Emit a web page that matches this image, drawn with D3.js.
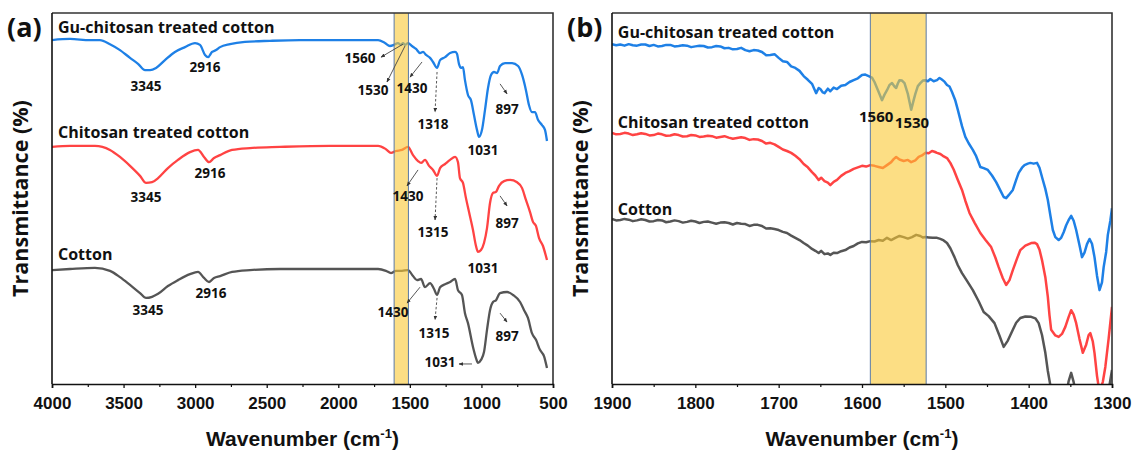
<!DOCTYPE html>
<html>
<head>
<meta charset="utf-8">
<script src="https://cdn.jsdelivr.net/npm/d3@7"></script>
<style>
  body { margin: 0; background: #fff; }
  svg { display: block; }
</style>
</head>
<body>
<svg id="chart" width="1133" height="452"></svg>
<script>
// ---- data (wavenumber in cm-1, transmittance in arbitrary offset units) ----
const seriesNames = ["Gu-chitosan treated cotton", "Chitosan treated cotton", "Cotton"];
const seriesColors = ["#1e80e6", "#ff4343", "#555555"];

const ticksA = [4000, 3500, 3000, 2500, 2000, 1500, 1000, 500];
const minorA = [3750, 3250, 2750, 2250, 1750, 1250, 750];
const ticksB = [1900, 1800, 1700, 1600, 1500, 1400, 1300];
const minorB = [1850, 1750, 1650, 1550, 1450, 1350];

const bandA = [1610, 1510];
const bandB = [1590, 1523];

// panel (a): full range spectra
const guA = [[4000,92.7],[3874,93.0],[3735,92.7],[3665,92.7],[3595,91.6],[3525,90.0],[3455,87.9],[3399,86.3],[3350,84.6],[3315,84.6],[3273,85.2],[3211,87.3],[3141,89.5],[3071,90.8],[3001,91.9],[2966,91.4],[2931,88.7],[2910,88.1],[2882,89.5],[2854,90.0],[2826,90.8],[2756,91.6],[2652,92.2],[2477,92.5],[2267,92.7],[2058,92.7],[1848,92.7],[1722,92.7],[1674,91.9],[1639,91.1],[1611,91.4],[1583,91.9],[1562,91.4],[1548,91.9],[1534,91.4],[1513,91.9],[1485,91.1],[1457,90.3],[1429,89.2],[1408,89.5],[1387,88.7],[1359,87.9],[1338,86.8],[1310,85.2],[1289,87.3],[1254,88.1],[1219,89.2],[1184,89.5],[1171,89.0],[1157,86.3],[1143,85.2],[1129,85.4],[1115,81.9],[1094,77.9],[1073,76.5],[1052,72.5],[1031,68.5],[1017,66.6],[996,68.5],[975,73.9],[954,79.8],[933,83.3],[912,84.1],[891,83.8],[870,85.7],[835,86.5],[786,86.5],[744,85.7],[716,83.3],[689,79.2],[668,75.2],[647,73.3],[626,73.3],[605,71.2],[577,69.8],[556,68.5],[542,65.5]];
const chA = [[4000,63.9],[3874,64.2],[3700,64.2],[3595,63.1],[3525,61.2],[3455,58.8],[3385,56.1],[3343,54.2],[3301,54.4],[3259,55.5],[3190,58.2],[3120,60.4],[3036,62.5],[2980,63.1],[2938,61.2],[2903,59.8],[2868,60.9],[2826,61.7],[2742,63.1],[2617,63.6],[2407,63.9],[2058,64.2],[1722,64.2],[1667,63.3],[1632,62.3],[1597,62.8],[1555,63.1],[1513,63.9],[1478,61.7],[1443,60.1],[1422,59.6],[1394,60.4],[1366,58.8],[1338,57.7],[1310,56.1],[1289,58.2],[1254,59.3],[1219,60.4],[1184,61.2],[1164,59.8],[1150,55.5],[1129,54.2],[1108,50.1],[1087,46.4],[1059,41.5],[1038,37.2],[1024,35.6],[1003,36.1],[982,38.0],[961,42.0],[940,48.8],[919,51.5],[898,51.8],[877,53.4],[842,54.7],[800,55.0],[751,54.4],[716,52.8],[689,49.6],[661,46.4],[640,43.7],[619,42.6],[598,39.4],[570,37.2],[542,33.4]];
const cotA = [[4000,30.7],[3874,31.0],[3700,31.3],[3595,30.5],[3525,28.8],[3455,26.7],[3385,24.5],[3343,23.2],[3301,23.5],[3259,24.3],[3190,26.4],[3120,28.0],[3036,29.6],[2980,30.2],[2938,28.6],[2903,27.5],[2868,28.6],[2826,29.1],[2742,30.2],[2617,30.7],[2407,31.0],[2058,31.0],[1722,31.0],[1667,30.5],[1632,29.9],[1597,30.5],[1555,30.5],[1513,30.7],[1478,29.1],[1450,28.0],[1422,28.3],[1394,26.1],[1359,27.2],[1331,25.6],[1310,24.0],[1289,26.1],[1254,26.9],[1219,27.5],[1184,28.3],[1164,25.3],[1136,24.0],[1115,19.1],[1094,16.4],[1059,10.0],[1038,7.0],[1024,5.7],[1003,6.5],[982,8.6],[961,14.6],[940,19.9],[919,22.1],[898,22.6],[870,24.5],[821,24.8],[779,24.0],[730,22.1],[702,19.9],[675,17.8],[647,13.7],[619,11.9],[591,9.2],[563,7.5],[542,4.3]];

// panel (b): 1900-1300 close-up (noisy baseline read point by point)
const guB = [[1900,91.6],[1895,91.3],[1890,91.5],[1885,91.2],[1880,91.6],[1875,91.3],[1870,91.2],[1865,91.5],[1860,91.5],[1855,91.1],[1850,91.4],[1845,91.0],[1840,91.1],[1835,91.4],[1830,91.4],[1825,91.0],[1820,91.1],[1815,91.3],[1810,91.2],[1805,90.8],[1800,91.0],[1795,91.2],[1790,91.1],[1785,90.7],[1780,90.8],[1775,91.1],[1770,91.0],[1765,90.5],[1760,90.6],[1755,90.2],[1750,90.3],[1745,90.6],[1740,90.0],[1735,89.7],[1730,90.0],[1725,89.9],[1720,89.5],[1715,88.6],[1710,88.7],[1705,88.9],[1700,87.9],[1695,87.0],[1690,86.8],[1685,85.6],[1680,85.2],[1675,84.4],[1670,83.0],[1665,82.0],[1660,80.9],[1657,79.4],[1655,78.4],[1652,79.8],[1650,79.5],[1647,78.6],[1645,78.4],[1641,79.6],[1638,78.9],[1634,79.9],[1630,79.5],[1625,80.4],[1620,80.6],[1615,81.4],[1610,81.9],[1605,82.4],[1600,83.3],[1596,83.4],[1592,83.0],[1588,82.6],[1585,81.4],[1580,78.7],[1576,76.5],[1573,78.0],[1570,79.2],[1567,80.6],[1564,81.1],[1561,80.2],[1559,79.8],[1557,81.0],[1555,81.9],[1552,81.8],[1549,81.1],[1545,78.2],[1541,73.9],[1538,76.5],[1536,78.2],[1533,80.3],[1530,81.1],[1527,81.8],[1524,81.9],[1521,81.6],[1518,82.2],[1514,81.6],[1510,81.9],[1507,82.5],[1505,82.2],[1501,81.5],[1498,80.6],[1495,80.2],[1492,78.7],[1488,76.4],[1485,73.9],[1480,69.5],[1476,66.6],[1472,64.9],[1467,63.1],[1463,61.4],[1458,58.5],[1454,58.2],[1449,57.7],[1444,56.2],[1439,54.4],[1434,52.2],[1430,50.4],[1427,50.1],[1424,50.9],[1419,52.3],[1415,55.0],[1412,56.9],[1408,58.3],[1405,59.0],[1401,59.4],[1398,59.6],[1394,59.4],[1390,59.6],[1387,58.3],[1384,55.8],[1380,52.6],[1377,49.6],[1374,45.5],[1371,41.5],[1368,39.6],[1364,38.8],[1361,39.4],[1358,40.9],[1355,42.8],[1352,44.2],[1349,45.3],[1346,44.0],[1343,41.5],[1339,37.4],[1336,34.2],[1333,35.4],[1330,37.7],[1327,39.1],[1324,37.8],[1321,34.2],[1318,29.2],[1315,25.3],[1312,27.4],[1310,31.5],[1307,35.6],[1305,40.2],[1302,44.0],[1300,47.4]];
const chB = [[1900,67.7],[1895,67.3],[1890,67.4],[1885,67.7],[1880,67.5],[1875,67.1],[1870,67.3],[1865,67.6],[1860,67.4],[1855,67.0],[1850,67.1],[1845,67.5],[1840,67.3],[1835,66.9],[1830,67.0],[1825,67.3],[1820,67.1],[1815,66.7],[1810,66.8],[1805,67.1],[1800,67.0],[1795,66.6],[1790,66.7],[1785,66.9],[1780,66.8],[1775,66.4],[1770,66.6],[1765,66.8],[1760,66.4],[1755,66.1],[1750,66.3],[1745,66.5],[1740,66.3],[1735,65.8],[1730,66.0],[1725,65.9],[1720,65.5],[1715,64.8],[1710,65.0],[1705,64.6],[1700,63.9],[1695,63.2],[1690,62.8],[1685,62.3],[1680,61.5],[1675,60.6],[1670,59.3],[1665,58.4],[1660,57.1],[1656,56.2],[1652,55.0],[1649,55.6],[1645,54.7],[1641,54.3],[1638,53.6],[1634,54.5],[1630,55.0],[1625,56.1],[1620,56.9],[1615,57.4],[1610,58.0],[1605,58.4],[1600,58.8],[1595,58.6],[1590,59.0],[1585,58.8],[1580,58.5],[1575,58.2],[1570,59.0],[1565,59.8],[1562,60.6],[1559,61.2],[1555,60.5],[1550,60.1],[1545,60.4],[1541,59.8],[1536,60.3],[1532,61.2],[1528,61.6],[1524,62.3],[1520,62.2],[1516,62.8],[1513,62.6],[1510,62.3],[1506,62.0],[1503,61.5],[1498,60.9],[1494,59.6],[1490,57.8],[1485,55.0],[1480,52.3],[1476,49.4],[1471,46.1],[1465,43.5],[1458,40.7],[1452,38.9],[1445,36.9],[1440,34.1],[1436,31.5],[1431,28.5],[1427,26.7],[1423,28.0],[1419,30.7],[1414,33.8],[1410,36.1],[1404,37.3],[1397,38.0],[1393,38.1],[1390,37.7],[1387,36.2],[1384,33.4],[1380,28.8],[1377,23.5],[1375,18.5],[1373,14.6],[1368,13.1],[1364,12.7],[1360,13.5],[1356,15.4],[1352,18.1],[1349,19.9],[1346,18.7],[1343,16.4],[1339,12.1],[1335,8.4],[1331,10.6],[1328,13.2],[1326,13.7],[1323,11.4],[1321,8.4],[1318,2.2],[1315,-2.2],[1311,0.6],[1308,4.6],[1304,12.3],[1300,20.8]];
const cotB = [[1900,44.5],[1895,44.1],[1890,44.2],[1885,44.5],[1880,44.3],[1875,43.9],[1870,44.1],[1865,44.4],[1860,44.2],[1855,43.8],[1850,43.9],[1845,44.2],[1840,44.1],[1835,43.6],[1830,43.8],[1825,44.1],[1820,43.9],[1815,43.5],[1810,43.7],[1805,44.0],[1800,43.8],[1795,43.4],[1790,43.7],[1785,43.8],[1780,43.5],[1775,43.2],[1770,43.5],[1765,43.6],[1760,43.4],[1755,43.0],[1750,43.4],[1745,43.2],[1740,43.1],[1735,42.6],[1730,42.9],[1725,42.9],[1720,42.6],[1715,41.9],[1710,42.0],[1705,41.8],[1700,41.5],[1695,41.0],[1690,40.7],[1685,40.0],[1680,39.4],[1675,38.8],[1670,38.0],[1665,37.3],[1660,36.4],[1656,35.9],[1652,35.3],[1649,35.9],[1645,35.0],[1641,35.2],[1638,34.8],[1634,35.4],[1630,35.3],[1625,35.8],[1620,36.1],[1615,36.8],[1610,37.2],[1605,37.9],[1600,38.3],[1595,38.2],[1590,38.5],[1585,38.4],[1580,38.8],[1575,38.6],[1570,39.4],[1565,38.8],[1560,39.4],[1555,39.9],[1550,39.6],[1545,39.2],[1540,39.6],[1535,40.2],[1530,39.9],[1527,39.5],[1524,39.6],[1520,39.5],[1515,39.4],[1510,39.4],[1506,39.1],[1502,38.7],[1498,38.0],[1494,36.6],[1489,34.2],[1485,32.0],[1480,29.9],[1474,27.8],[1467,25.3],[1460,22.3],[1454,19.4],[1448,18.3],[1441,16.4],[1435,13.0],[1430,10.0],[1425,11.7],[1419,14.6],[1415,16.5],[1410,17.8],[1404,18.2],[1397,18.1],[1392,17.7],[1388,16.4],[1384,13.2],[1380,8.4],[1377,3.5],[1373,-1.6],[1369,-6.0],[1365,-9.7],[1360,-7.2],[1355,-3.0],[1352,0.8],[1349,3.0],[1346,0.5],[1343,-3.0],[1339,-8.0],[1335,-12.4],[1320,-12.4],[1310,-7.0],[1303,-0.3],[1300,3.8]];

// series name positions [wavenumber, T]
const namePosA = [[3958,96.2],[3958,67.9],[3958,35.0]];
const namePosB = [[1893,94.9],[1893,70.6],[1893,47.2]];

// peak labels [text, wavenumber, T, series index]
const peakLabelsA = [
  ["3345",3343,80.3,0],["2916",2931,85.4,0],["1560",1848,87.9,0],["1530",1757,79.2,0],
  ["1430",1485,79.8,0],["1318",1338,70.1,0],["1031",989,63.1,0],["897",821,74.1,0],
  ["3345",3343,50.4,1],["2916",2896,56.9,1],["1430",1513,50.7,1],["1315",1338,41.0,1],
  ["1031",989,31.3,1],["897",821,43.4,1],
  ["3345",3329,19.9,2],["2916",2889,24.5,2],["1430",1618,19.4,2],["1315",1331,13.7,2],
  ["1031",1289,5.9,2],["897",821,12.9,2]
];
const peakLabelsB = [["1560",1583,72.0],["1530",1540,70.4]];

// arrows [wn1, T1, wn2, T2, dashed]
const arrowsA = [
  [1548,91.6,1702,88.1,0],[1534,91.1,1660,81.4,0],[1415,86.8,1499,82.7,0],
  [1310,84.1,1324,73.3,1],[870,80.9,821,78.2,0],
  [1443,57.7,1520,53.4,0],[1310,55.5,1324,44.2,1],[870,50.7,821,48.0,0],
  [1429,26.1,1520,21.8,0],[1310,23.2,1324,17.3,1],[870,19.1,821,16.7,0],[1066,5.4,1157,5.4,0]
];

// ---- drawing ----
const svg = d3.select("#chart");
const plotTop = 13, plotBottom = 384;
const arial = "'Liberation Sans', Arial, sans-serif";
const gothic = "'Open Sans', 'Noto Sans', sans-serif";

svg.append("defs").append("marker")
  .attr("id", "head")
  .attr("viewBox", "0 0 10 10")
  .attr("refX", 9).attr("refY", 5)
  .attr("markerWidth", 5).attr("markerHeight", 5)
  .attr("orient", "auto")
  .append("path").attr("d", "M0,1L10,5L0,9Z").attr("fill", "#333");

function panel(opt) {
  const x = d3.scaleLinear().domain(opt.domain).range([opt.left, opt.right]);
  const y = d3.scaleLinear().domain([0, 100]).range([plotBottom, plotTop]);
  const g = svg.append("g");

  g.append("clipPath").attr("id", opt.id + "clip")
    .append("rect")
    .attr("x", opt.left).attr("y", plotTop)
    .attr("width", opt.right - opt.left).attr("height", plotBottom - plotTop);

  const line = d3.line()
    .x(d => x(d[0])).y(d => y(d[1]))
    .curve(opt.curve);

  const curves = g.append("g").attr("clip-path", `url(#${opt.id}clip)`);
  opt.series.forEach((s, i) => {
    curves.append("path")
      .datum(s)
      .attr("d", line)
      .attr("fill", "none")
      .attr("stroke", seriesColors[i])
      .attr("stroke-width", opt.lw)
      .attr("stroke-linejoin", "round");
  });

  // highlighted band, drawn on top so the curves show through tinted
  const bx0 = x(opt.band[0]), bx1 = x(opt.band[1]);
  g.append("rect")
    .attr("x", bx0).attr("y", plotTop)
    .attr("width", bx1 - bx0).attr("height", plotBottom - plotTop)
    .attr("fill", "rgb(250,200,50)")
    .attr("fill-opacity", 0.6);
  g.selectAll(".bl").data(opt.band).join("line")
    .attr("x1", d => x(d)).attr("x2", d => x(d))
    .attr("y1", plotTop).attr("y2", plotBottom)
    .attr("stroke", "#5a7aa6").attr("stroke-width", 1);

  // frame
  g.append("path")
    .attr("d", `M${opt.left},${plotTop}H${opt.right}V${plotBottom}`)
    .attr("fill", "none").attr("stroke", "#333").attr("stroke-width", 1.6);
  g.append("line")
    .attr("x1", opt.left).attr("x2", opt.left)
    .attr("y1", plotTop).attr("y2", plotBottom)
    .attr("stroke", "#111").attr("stroke-width", 1.6);

  // x axis
  const ax = g.append("g").attr("transform", `translate(0,${plotBottom})`)
    .call(d3.axisBottom(x).tickValues(opt.ticks).tickSize(4).tickPadding(9).tickFormat(d3.format("d")));
  ax.select(".domain").attr("stroke", "#111").attr("stroke-width", 1.6);
  ax.selectAll(".tick line").attr("stroke", "#111").attr("stroke-width", 1.3);
  ax.selectAll(".tick text")
    .attr("font-family", arial).attr("font-weight", "bold")
    .attr("font-size", 17).attr("fill", "#111");
  const mx = g.append("g").attr("transform", `translate(0,${plotBottom})`)
    .call(d3.axisBottom(x).tickValues(opt.minor).tickSize(3).tickFormat(""));
  mx.select(".domain").remove();
  mx.selectAll(".tick line").attr("stroke", "#111").attr("stroke-width", 1.2);

  // axis titles
  const xt = g.append("text")
    .attr("x", (opt.left + opt.right) / 2).attr("y", 446)
    .attr("text-anchor", "middle")
    .attr("font-family", arial).attr("font-weight", "bold")
    .attr("font-size", 21).attr("fill", "#111");
  xt.append("tspan").text("Wavenumber (cm");
  xt.append("tspan").attr("dy", -8).attr("font-size", 13).text("-1");
  xt.append("tspan").attr("dy", 8).text(")");

  g.append("text")
    .attr("transform", `translate(${opt.left - 24},${(plotTop + plotBottom) / 2}) rotate(-90)`)
    .attr("text-anchor", "middle")
    .attr("font-family", gothic).attr("font-weight", "bold")
    .attr("font-size", 21.5).attr("fill", "#111")
    .text("Transmittance (%)");

  g.append("text")
    .attr("x", opt.left - 45).attr("y", 37)
    .attr("font-family", gothic).attr("font-weight", "bold")
    .attr("font-size", 27).attr("fill", "#111")
    .text(opt.tag);

  // series names
  g.selectAll(".name").data(opt.names).join("text")
    .attr("x", d => x(d[0])).attr("y", d => y(d[1]))
    .attr("dy", "0.36em")
    .attr("font-family", gothic).attr("font-weight", "bold")
    .attr("font-size", 16).attr("fill", "#111")
    .text((d, i) => seriesNames[i]);

  return { g, x, y };
}

const pa = panel({
  id: "a", left: 52, right: 553, domain: [4000, 500],
  ticks: ticksA, minor: minorA, band: bandA, curve: d3.curveMonotoneX,
  series: [guA, chA, cotA], names: namePosA, tag: "(a)", lw: 2.3
});
const pb = panel({
  id: "b", left: 612, right: 1112, domain: [1900, 1300],
  ticks: ticksB, minor: minorB, band: bandB, curve: d3.curveLinear,
  series: [guB, chB, cotB], names: namePosB, tag: "(b)", lw: 2.5
});

// arrows in panel (a)
pa.g.selectAll(".arr").data(arrowsA).join("line")
  .attr("x1", d => pa.x(d[0])).attr("y1", d => pa.y(d[1]))
  .attr("x2", d => pa.x(d[2])).attr("y2", d => pa.y(d[3]))
  .attr("stroke", "#444").attr("stroke-width", 0.9)
  .attr("stroke-dasharray", d => d[4] ? "2.5,2" : null)
  .attr("marker-end", "url(#head)");

// peak labels
pa.g.selectAll(".pk").data(peakLabelsA).join("text")
  .attr("x", d => pa.x(d[1])).attr("y", d => pa.y(d[2]))
  .attr("dy", "0.36em").attr("text-anchor", "middle")
  .attr("font-family", gothic).attr("font-weight", "bold")
  .attr("font-size", 13.5).attr("fill", "#111")
  .text(d => d[0]);

pb.g.selectAll(".pk").data(peakLabelsB).join("text")
  .attr("x", d => pb.x(d[1])).attr("y", d => pb.y(d[2]))
  .attr("dy", "0.36em").attr("text-anchor", "middle")
  .attr("font-family", gothic).attr("font-weight", "bold")
  .attr("font-size", 15).attr("fill", "#111")
  .text(d => d[0]);
</script>
</body>
</html>
